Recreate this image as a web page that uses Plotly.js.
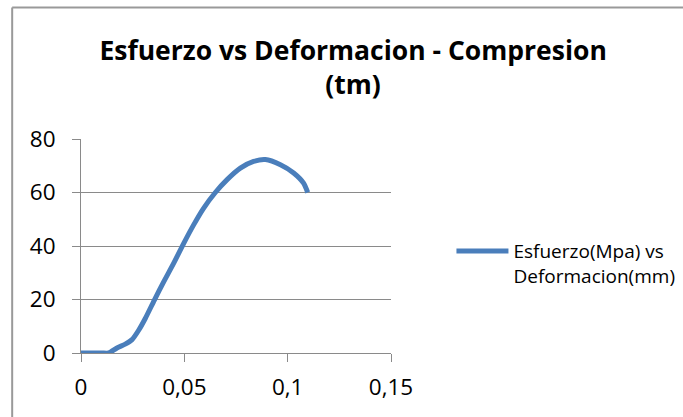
<!DOCTYPE html>
<html>
<head>
<meta charset="utf-8">
<script src="https://cdn.plot.ly/plotly-3.0.1.min.js"></script>
<style>
html,body{margin:0;padding:0;background:#fff;}
#chart{width:683px;height:417px;}
</style>
</head>
<body>
<div id="chart"></div>
<script>
// Data
var deformacion = [0, 0.005, 0.010, 0.0134, 0.0174, 0.0214, 0.0247, 0.0279, 0.0311, 0.0355, 0.040, 0.0448, 0.0497, 0.0545, 0.0593, 0.065, 0.0707, 0.0771, 0.0835, 0.0892, 0.0965, 0.1029, 0.1077, 0.1097];
var esfuerzo = [0, 0, 0, 0, 1.9, 3.3, 5.0, 8.5, 12.9, 19.8, 26.6, 33.5, 41, 47.9, 54.1, 60, 64.8, 69.1, 71.6, 72.3, 70.4, 67.3, 63.5, 60];
var seriesName = 'Esfuerzo(Mpa) vs<br>Deformacion(mm)';
var titleText = '<b>Esfuerzo vs Deformacion - Compresion<br>(tm)</b>';
var xTicks = [0, 0.05, 0.1, 0.15];
var yTicks = [0, 20, 40, 60, 80];

var font = 'Open Sans, sans-serif';
var gray = '#8a8a8a';

var trace = {
  x: deformacion, y: esfuerzo, type: 'scatter', mode: 'lines',
  name: seriesName,
  line: {color: '#4a7ebb', width: 5, shape: 'spline', smoothing: 0.7},
  showlegend: true
};

var layout = {
  width: 683, height: 417,
  margin: {l: 80.7, r: 292.3, t: 139.3, b: 64.3, pad: 0, autoexpand: false},
  paper_bgcolor: '#fff', plot_bgcolor: '#fff',
  separators: ',.',
  font: {family: font, color: '#000'},
  title: {
    text: titleText,
    font: {family: font, size: 26.5, color: '#000'},
    x: 0.517, xanchor: 'center', xref: 'container',
    y: 0.856, yanchor: 'middle', yref: 'container'
  },
  xaxis: {
    range: [0, 0.15], tickvals: xTicks, showgrid: false, zeroline: false,
    showline: true, linecolor: gray, linewidth: 1,
    ticks: 'outside', ticklen: 8, tickcolor: gray, tickwidth: 1,
    ticklabelstandoff: 6,
    tickfont: {family: font, size: 22.5, color: '#000'}
  },
  yaxis: {
    range: [0, 80], tickvals: yTicks, showgrid: true, gridcolor: gray, gridwidth: 1,
    zeroline: false, showline: true, linecolor: gray, linewidth: 1,
    ticks: 'outside', ticklen: 8, tickcolor: gray, tickwidth: 1,
    ticklabelstandoff: 12,
    tickfont: {family: font, size: 22.5, color: '#000'}
  },
  showlegend: true,
  legend: {
    x: 1.195, xanchor: 'left', y: 0.565, yanchor: 'top',
    font: {family: font, size: 19, color: '#000'},
    valign: 'top', itemwidth: 52, bgcolor: 'rgba(0,0,0,0)'
  },
  shapes: [
    {type: 'line', xref: 'paper', yref: 'paper', x0: -0.222, x1: -0.222, y0: -0.4, y1: 1.615, line: {color: '#999', width: 2}},
    {type: 'line', xref: 'paper', yref: 'paper', x0: -0.222, x1: 2.0, y0: 1.615, y1: 1.615, line: {color: '#999', width: 2}}
  ]
};

Plotly.newPlot('chart', [trace], layout, {staticPlot: true, displayModeBar: false});
</script>
</body>
</html>
